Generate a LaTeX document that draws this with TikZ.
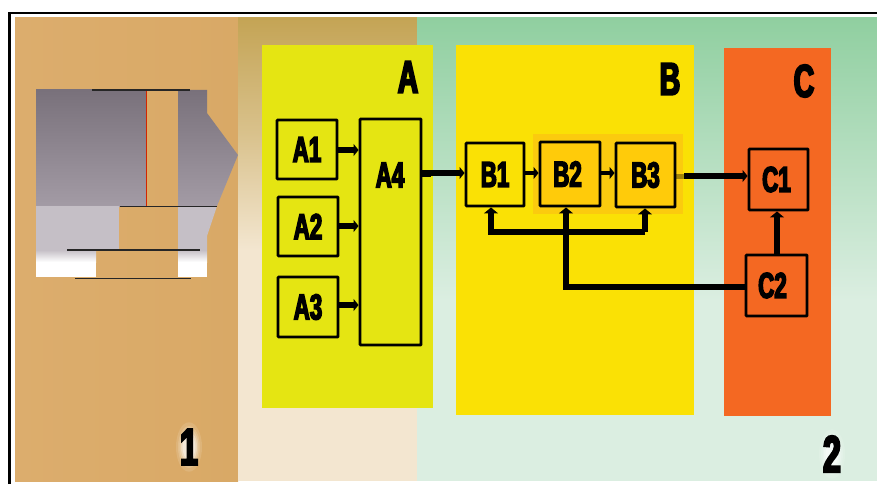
\documentclass[tikz,border=0pt]{standalone}
\usepackage{fontspec}
\setmainfont{Liberation Sans}
\newfontfamily\impactish[FakeStretch=0.62,FakeBold=4]{Liberation Sans Bold}
\usetikzlibrary{arrows.meta,calc,positioning}
\definecolor{brownbg}{HTML}{D9A966}
\definecolor{brownbgL}{HTML}{DCAD6D}
\definecolor{goldtop}{HTML}{C4A455}
\definecolor{creambot}{HTML}{F3E6D0}
\definecolor{greentop}{HTML}{90CFA0}
\definecolor{greenbot}{HTML}{DBEEE1}
\definecolor{panelA}{HTML}{E5E512}
\definecolor{panelB}{HTML}{FAE105}
\definecolor{panelC}{HTML}{F46822}
\definecolor{halo}{HTML}{FBCB0E}
\definecolor{boxB}{HTML}{FFCB0A}
\definecolor{greyT}{HTML}{79717B}
\definecolor{greyB}{HTML}{A39BA5}
\definecolor{greyL}{HTML}{C5BFC6}
\tikzset{
  blockbox/.style={draw=black,line width=2.9pt,rounded corners=0.8pt,inner sep=0pt,
    font=\impactish\fontsize{36}{36}\selectfont,text=black},
  paneltitle/.style={inner sep=0pt,text=black,font=\impactish\fontsize{46}{46}\selectfont},
  zonetitle/.style={inner sep=0pt,text=black,font=\impactish\fontsize{52}{52}\selectfont},
  flow/.style={draw=black,line width=5.2pt,-{Triangle[length=5pt,width=12pt]}},
  feed/.style={draw=black,line width=5.6pt,-{Triangle[length=6pt,width=14pt]}},
  hline/.style={draw=black!85,line width=1.1pt}
}
\begin{document}
\begin{tikzpicture}[x=1pt,y=-1pt]
\useasboundingbox (0,0) rectangle (877,484);
\fill[white] (0,0) rectangle (877,484);
% frame
\draw[black,line width=2.8pt] (9.5,484) -- (9.5,13) -- (877,13);
% background zones
\shade[left color=brownbgL,right color=brownbg] (15,18) rectangle (238,481);
\shade[top color=goldtop,bottom color=creambot,middle color=creambot!45!goldtop] (238,18) rectangle (417,250);
\fill[creambot] (238,250) rectangle (417,481);
\shade[top color=greentop,bottom color=greenbot] (417,18) rectangle (877,300);
\fill[greenbot] (417,300) rectangle (877,481);
% grey part
\shade[top color=greyT,bottom color=greyB] (36,90) rectangle (146,206);
\shade[top color=greyT,bottom color=greyB]
  (178,90) -- (207,90) -- (207,113) -- (238,155) -- (217,206) -- (178,206) -- cycle;
\fill[greyL] (36,206) rectangle (119,250);
\fill[greyL] (178,206) -- (217,206) -- (207,236) -- (207,250) -- (178,250) -- cycle;
\shade[top color=greyL,bottom color=white] (36,250) rectangle (96,262);
\fill[white] (36,262) rectangle (96,277);
\shade[top color=greyL,bottom color=white] (178,250) rectangle (207,262);
\fill[white] (178,262) rectangle (207,277);
\draw[red!75!black!70!orange,line width=0.8pt] (146,91) -- (146,206);
\draw[hline] (92,90) -- (190,90);
\draw[hline] (120,206.5) -- (217,206.5);
\draw[hline] (67,250) -- (200,250);
\draw[hline] (75,278.5) -- (191,278.5);
% panels
\fill[panelA] (262,45) rectangle (433,408);
\fill[panelB] (456,45) rectangle (694,415);
\fill[panelC] (724,48) rectangle (831,416);
\fill[halo] (533,134) rectangle (683,214);
% panel titles
\node[paneltitle] (tA) at (408,77) {A};
\node[paneltitle] (tB) at (670,79) {B};
\node[paneltitle] (tC) at (804,81) {C};
% zone labels with glow
\foreach \r/\o in {13/.12,11/.15,9.5/.2,8/.3,6.5/.4}{
  \fill[white,opacity=\o] (189,447) ellipse ({\r pt} and {\r*1.9 pt});
  \fill[white,opacity=\o] (832,454) ellipse ({\r pt} and {\r*1.9 pt});
}
\node[zonetitle] (z1) at (189,447) {1};
\node[zonetitle] (z2) at (832,454) {2};
% blocks
\node[blockbox,minimum width=60pt,minimum height=59pt] (A1) at (307,149.5) {A1};
\node[blockbox,minimum width=60pt,minimum height=59pt] (A2) at (308,226.5) {A2};
\node[blockbox,minimum width=60pt,minimum height=60pt] (A3) at (308,307) {A3};
\node[blockbox,minimum width=61pt,minimum height=226pt] (A4) at (390.5,232) {};
\node[inner sep=0pt,font=\impactish\fontsize{36}{36}\selectfont] (A4t) at (390,175) {A4};
\node[blockbox,minimum width=58pt,minimum height=63pt] (B1) at (495,174.5) {B1};
\node[blockbox,fill=boxB,minimum width=60pt,minimum height=64pt] (B2) at (570,174) {B2\kern5pt};
\node[blockbox,fill=boxB,minimum width=59pt,minimum height=64pt] (B3) at (645.5,175) {B3};
\node[blockbox,minimum width=59pt,minimum height=61pt] (C1) at (778.5,179.5) {C1\kern4pt};
\node[blockbox,minimum width=61pt,minimum height=61pt] (C2) at (776.5,285.5) {C2\kern8pt};
% connectors
\draw[flow] (A1.east |- 0,150) -- (A4.west |- 0,150);
\draw[flow] (A2.east |- 0,226) -- (A4.west |- 0,226);
\draw[flow] (A3.east |- 0,305) -- (A4.west |- 0,305);
\draw[flow] (A4.east |- 0,173) -- (B1.west |- 0,173);
\draw[black,line width=7pt] (A4.east |- 0,173) -- ++(9,0);
\draw[flow,line width=4.2pt] (B1.east |- 0,173) -- (B2.west |- 0,173);
\draw[flow,line width=4.2pt] (B2.east |- 0,173) -- (B3.west |- 0,173);
\coordinate (stub) at (684,176);
\draw[black,line width=5pt,opacity=.35] (B3.east |- stub) -- (stub);
\draw[flow] (stub) -- (C1.west |- stub);
\coordinate (c2up) at (777,0);
\draw[feed] (C2.north -| c2up) -- (C1.south -| c2up);
\coordinate (busL) at (491,232);
\coordinate (busR) at (645,232);
\coordinate (longdrop) at (566,287);
\draw[feed,line join=miter] (busR) -- (busL) -- (B1.south -| busL);
\draw[feed] (busR) -- (B3.south -| busR);
\draw[feed,line join=miter] (C2.west |- longdrop) -- (longdrop) -- (B2.south -| longdrop);
\end{tikzpicture}
\end{document}
